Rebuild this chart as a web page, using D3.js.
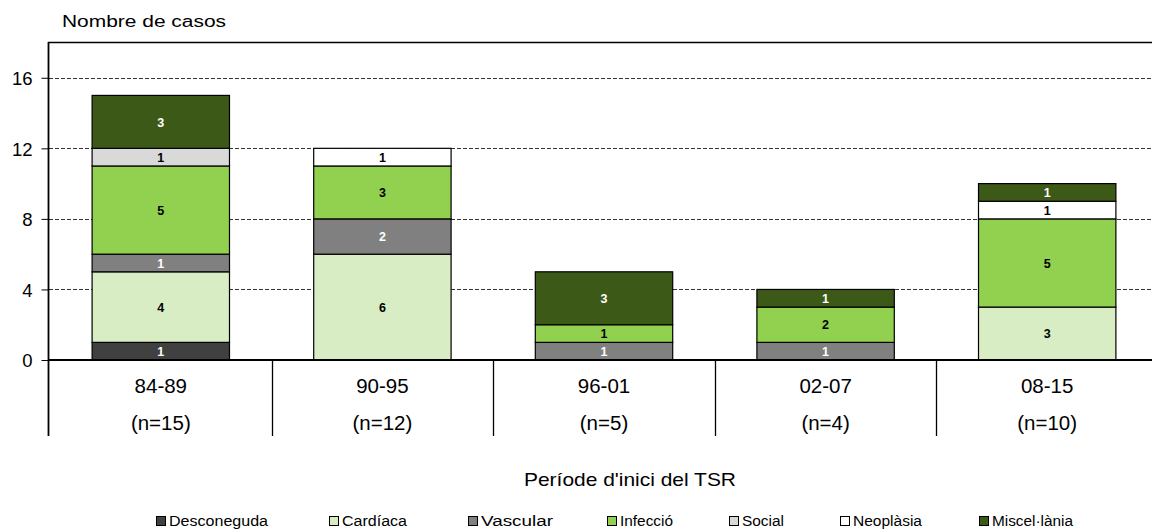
<!DOCTYPE html>
<html><head><meta charset="utf-8">
<script src="https://cdn.jsdelivr.net/npm/d3@7"></script>
<style>body{margin:0;background:#fff;} svg{display:block;font-family:"Liberation Sans",Arial,sans-serif;}</style>
</head><body>
<script>
const periods = ["84-89","90-95","96-01","02-07","08-15"];
const nLabels = ["(n=15)","(n=12)","(n=5)","(n=4)","(n=10)"];
const seriesNames = ["Desconeguda","Cardíaca","Vascular","Infecció","Social","Neoplàsia","Miscel·lània"];
const desconeguda = [1,0,0,0,0];
const cardiaca    = [4,6,0,0,3];
const vascular    = [1,2,1,1,0];
const infeccio    = [5,3,1,2,5];
const social      = [1,0,0,0,0];
const neoplasia   = [0,1,0,0,1];
const miscelania  = [3,0,3,1,1];
const yTicks = [0,4,8,12,16];
const colors = ["#404040","#d8edc4","#808080","#92d050","#d9d9d9","#ffffff","#3d5918"];
const labelColors = ["#fff","#000","#fff","#000","#000","#000","#fff"];

const W=1152,H=529;
const svg=d3.select("body").append("svg").attr("width",W).attr("height",H);
const series=[desconeguda,cardiaca,vascular,infeccio,social,neoplasia,miscelania];
const rows=periods.map((p,i)=>{const o={period:p};seriesNames.forEach((s,j)=>o[s]=series[j][i]);return o;});
const stack=d3.stack().keys(seriesNames)(rows);

const x=d3.scaleBand().domain(periods).range([50,1158]).paddingInner(0.38).paddingOuter(0.19);
const y=d3.scaleLinear().domain([0,18]).range([360,42.5]);

// gridlines
svg.append("g").selectAll("line").data(yTicks.filter(d=>d>0)).join("line")
  .attr("x1",49).attr("x2",W).attr("y1",d=>Math.round(y(d))+0.5).attr("y2",d=>Math.round(y(d))+0.5)
  .attr("stroke","#333").attr("stroke-width",1).attr("stroke-dasharray","4,2");

// y axis
const ya=svg.append("g").attr("transform","translate(48.5,0)").call(d3.axisLeft(y).tickValues(yTicks).tickSize(7).tickSizeOuter(0).tickPadding(9));
ya.select(".domain").remove();
ya.selectAll(".tick line").attr("stroke","#000");
ya.selectAll("text").attr("font-size",18.5).attr("fill","#000").attr("font-family","Liberation Sans, Arial, sans-serif").attr("dy","0.36em");

// bars
const g=svg.append("g");
stack.forEach((layer,j)=>{
  layer.forEach((d,i)=>{
    const v=d[1]-d[0]; if(!v) return;
    const xp=x(periods[i]);
    g.append("rect").attr("x",xp).attr("y",y(d[1])).attr("width",x.bandwidth()).attr("height",y(d[0])-y(d[1]))
      .attr("fill",colors[j]).attr("stroke","#000").attr("stroke-width",1.2);
    g.append("text").attr("x",xp+x.bandwidth()/2).attr("y",(y(d[0])+y(d[1]))/2).attr("dy","0.37em")
      .attr("text-anchor","middle").attr("font-size",12.5).attr("font-weight","bold").attr("fill",labelColors[j]).text(v);
  });
});

// frame: left axis line, top line, bottom axis
svg.append("line").attr("x1",48.5).attr("x2",48.5).attr("y1",42).attr("y2",436).attr("stroke","#000").attr("stroke-width",1.8);
svg.append("line").attr("x1",48).attr("x2",W).attr("y1",42.5).attr("y2",42.5).attr("stroke","#000").attr("stroke-width",1.5);
svg.append("line").attr("x1",48).attr("x2",W).attr("y1",360).attr("y2",360).attr("stroke","#000").attr("stroke-width",2.2);

// category dividers
periods.slice(1).forEach(p=>{
  const xd=Math.round(x(p)-x.step()*x.paddingInner()/2)+0.5;
  svg.append("line").attr("x1",xd).attr("x2",xd).attr("y1",360).attr("y2",436).attr("stroke","#000").attr("stroke-width",1.3);
});
periods.forEach((p,i)=>{
  const cx=x(p)+x.bandwidth()/2;
  svg.append("text").attr("x",cx).attr("y",393).attr("text-anchor","middle").attr("font-size",20.5).text(p);
  svg.append("text").attr("x",cx).attr("y",430).attr("text-anchor","middle").attr("font-size",20.5).text(nLabels[i]);
});

// titles
svg.append("text").attr("x",62).attr("y",26.5).attr("font-size",16).attr("textLength",164).attr("lengthAdjust","spacingAndGlyphs").text("Nombre de casos");
svg.append("text").attr("x",524).attr("y",486).attr("font-size",19).attr("textLength",212).attr("lengthAdjust","spacingAndGlyphs").text("Període d'inici del TSR");

// legend
const legX=[156,329,468,607,729,840,979];
const legW=[99,65,72,53,42,69,81];
seriesNames.forEach((s,j)=>{
  svg.append("rect").attr("x",legX[j]+0.5).attr("y",516.5).attr("width",9).attr("height",9).attr("fill",colors[j]).attr("stroke","#000").attr("stroke-width",1);
  svg.append("text").attr("x",legX[j]+13).attr("y",526).attr("font-size",14).attr("textLength",legW[j]).attr("lengthAdjust","spacingAndGlyphs").text(s);
});
</script>
</body></html>
